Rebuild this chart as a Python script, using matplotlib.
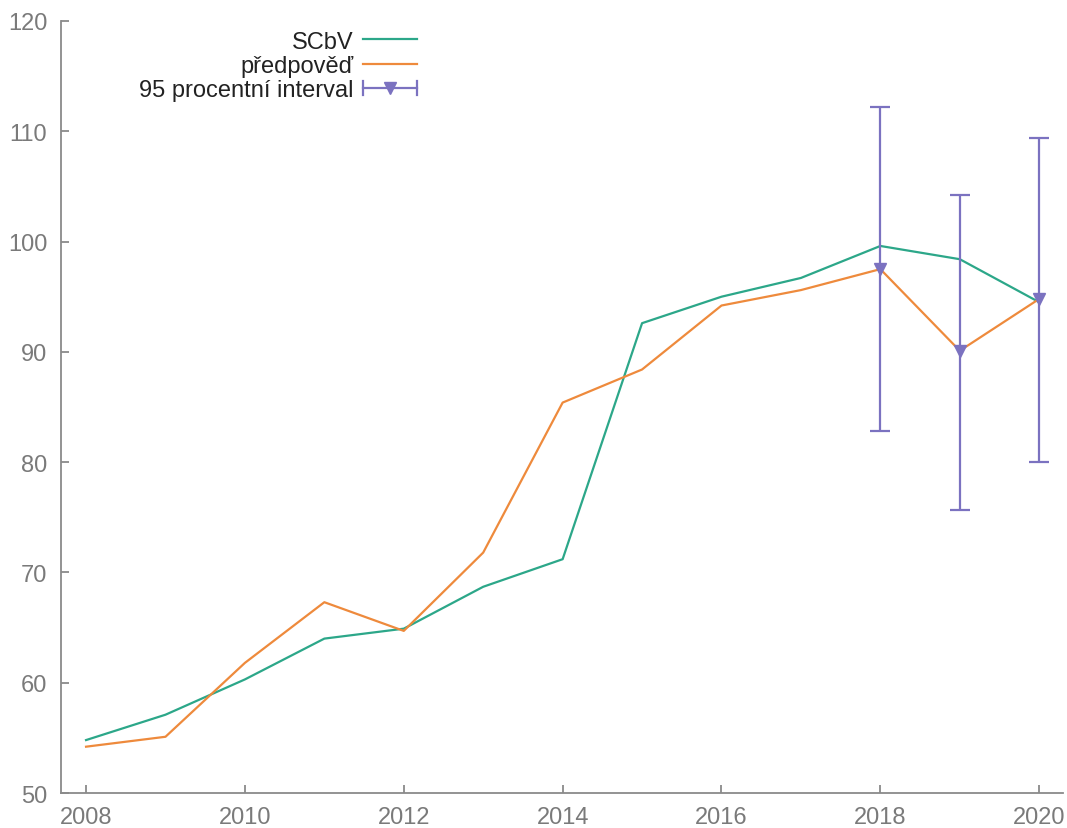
"""SCbV vs. forecast with 95% interval (gnuplot-like look)."""
import matplotlib
matplotlib.use("Agg")
import matplotlib.pyplot as plt
from matplotlib.lines import Line2D
from matplotlib.legend_handler import HandlerBase

plt.rcParams["font.family"] = ["Liberation Sans", "DejaVu Sans"]

years = [2008, 2009, 2010, 2011, 2012, 2013, 2014, 2015, 2016, 2017, 2018, 2019, 2020]
scbv = [54.8, 57.1, 60.3, 64.0, 64.9, 68.7, 71.2, 92.6, 95.0, 96.7, 99.6, 98.4, 94.5]
forecast = [54.2, 55.1, 61.8, 67.3, 64.7, 71.8, 85.4, 88.4, 94.2, 95.6, 97.5, 90.1, 94.8]
ci_years = [2018, 2019, 2020]
ci_mid = [97.5, 90.1, 94.8]
ci_low = [82.8, 75.7, 80.0]
ci_high = [112.2, 104.2, 109.4]

GREEN, ORANGE, PURPLE = "#2ca789", "#ee8a3c", "#7b72c0"
GREY = "#8a8a8a"


class HandlerHErr(HandlerBase):
    # gnuplot style key: horizontal bar with caps + marker in the middle
    def create_artists(self, legend, orig, xd, yd, w, h, fs, trans):
        y = h / 2 - yd
        x0, x1 = -xd, -xd + w
        arts = [Line2D([x0, x1], [y, y], color=PURPLE, lw=1.6),
                Line2D([x0, x0], [y - 5, y + 5], color=PURPLE, lw=1.6),
                Line2D([x1, x1], [y - 5, y + 5], color=PURPLE, lw=1.6),
                Line2D([(x0 + x1) / 2], [y], marker="v", ms=9, color=PURPLE, ls="none")]
        for a in arts:
            a.set_transform(trans)
        return arts


fig = plt.figure(figsize=(10.67, 8.29), dpi=100)
ax = fig.add_axes([0.0572, 0.0422, 0.9391, 0.9313])

l1, = ax.plot(years, scbv, color=GREEN, lw=1.6)
l2, = ax.plot(years, forecast, color=ORANGE, lw=1.6)
yerr = [[m - lo for m, lo in zip(ci_mid, ci_low)], [hi - m for m, hi in zip(ci_mid, ci_high)]]
ax.errorbar(ci_years, ci_mid, yerr=yerr, fmt="v", color=PURPLE, ms=9,
            elinewidth=1.6, capsize=7, capthick=1.6, zorder=3)

ax.set_xlim(2007.685, 2020.30)
ax.set_ylim(50, 120)
ax.set_xticks(range(2008, 2021, 2))
ax.set_yticks(range(50, 121, 10))
for s in ("top", "right"):
    ax.spines[s].set_visible(False)
for s in ("left", "bottom"):
    ax.spines[s].set_color(GREY)
    ax.spines[s].set_linewidth(1.3)
ax.tick_params(direction="in", length=6, width=1.3, color=GREY,
               labelcolor="#7a7a7a", labelsize=17)
ax.tick_params(axis="y", pad=10)
ax.tick_params(axis="x", pad=9.5)

proxy = Line2D([], [], color=PURPLE)
ax.legend([l1, l2, proxy], ["SCbV", "předpověď", "95 procentní interval"],
          handler_map={proxy: HandlerHErr()}, markerfirst=False, frameon=False,
          fontsize=17, loc="upper right", bbox_to_anchor=(0.391, 0.962),
          bbox_transform=fig.transFigure, borderpad=0, borderaxespad=0,
          handlelength=2.3, handletextpad=0.4, labelspacing=0.1,
          labelcolor="#222222")

fig.savefig("out.png", dpi=100)
